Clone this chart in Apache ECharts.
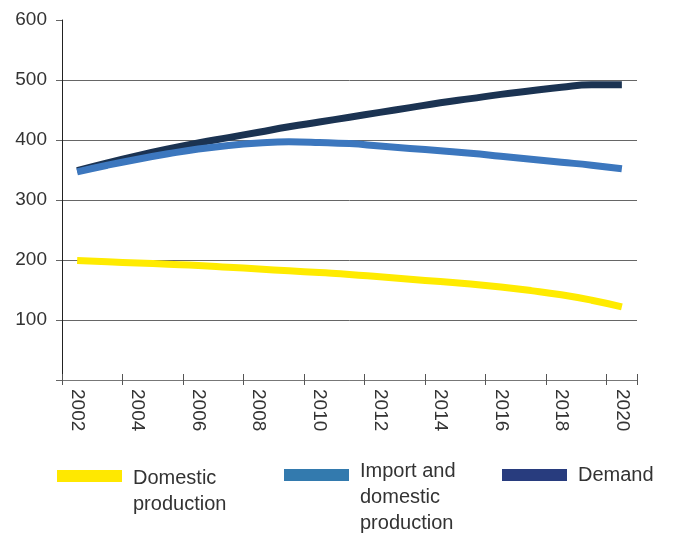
<!DOCTYPE html>
<html>
<head>
<meta charset="utf-8">
<script src="https://cdn.jsdelivr.net/npm/echarts@6/dist/echarts.min.js"></script>
<style>
  html, body { margin: 0; padding: 0; background: #fff; }
  #chart { width: 674px; height: 534px; }
</style>
</head>
<body>
<div id="chart"></div>
<script>
const years = ["2002", "2003", "2004", "2005", "2006", "2007", "2008", "2009", "2010", "2011",
  "2012", "2013", "2014", "2015", "2016", "2017", "2018", "2019", "2020"];
const domestic = [199, 197, 195, 193, 191, 188, 185, 182, 179, 176, 172, 168, 164, 160, 155, 149, 142, 133, 122];
const importDomestic = [347, 358, 368, 377, 385, 391, 395, 397, 396, 394, 390, 386, 382, 378, 373, 368, 363, 358, 352];
const demand = [349, 362, 374, 385, 395, 404, 413, 422, 430, 438, 446, 454, 462, 469, 476, 482, 488, 492, 492];
const yTicks = [0, 100, 200, 300, 400, 500, 600];

const FONT = "Liberation Sans";
const chart = echarts.init(document.getElementById("chart"));

// legend text is centred on the swatch, so blank spacer lines push the
// first text line down to swatch level
const legendText = { fontFamily: FONT, fontSize: 20, color: "#333", lineHeight: 26 };
const legendBase = {
  orient: "horizontal",
  padding: 0,
  icon: "rect",
  itemWidth: 65,
  itemHeight: 12,
  selectedMode: false,
  textStyle: Object.assign({}, legendText, {
    padding: [0, 0, 0, 6],
    rich: {
      t: legendText,
      s30: { fontSize: 2, lineHeight: 30 },
      s22: { fontSize: 2, lineHeight: 22 }
    }
  })
};

chart.setOption({
  animation: false,
  grid: { left: 62, right: 37, top: 20, bottom: 154 },
  legend: [
    Object.assign({}, legendBase, {
      left: 57, top: 435,
      data: [{ name: "Domestic production", itemStyle: { color: "#FFE800" } }],
      formatter: () => "{s30| }\n{t|Domestic}\n{t|production}"
    }),
    Object.assign({}, legendBase, {
      left: 284, top: 414,
      data: [{ name: "Import and domestic production", itemStyle: { color: "#337AAE" } }],
      formatter: () => "{s22| }\n{s22| }\n{t|Import and}\n{t|domestic}\n{t|production}"
    }),
    Object.assign({}, legendBase, {
      left: 502, top: 462,
      data: [{ name: "Demand", itemStyle: { color: "#283C7E" } }]
    })
  ],
  xAxis: [
    {
      type: "category",
      data: years,
      boundaryGap: true,
      axisLine: { lineStyle: { color: "#777", width: 1 } },
      axisTick: { show: true, interval: 1, length: 5, lineStyle: { color: "#555" } },
      axisLabel: {
        interval: 1, rotate: -90, margin: 9,
        fontFamily: FONT, fontSize: 19, color: "#333"
      },
      splitLine: { show: false }
    },
    {
      type: "category",
      data: years,
      boundaryGap: true,
      position: "bottom",
      axisLine: { show: false },
      axisTick: { show: true, inside: true, interval: 1, length: 6, lineStyle: { color: "#555" } },
      axisLabel: { show: false },
      splitLine: { show: false }
    }
  ],
  yAxis: {
    type: "value",
    min: yTicks[0],
    max: yTicks[yTicks.length - 1],
    interval: 100,
    axisLine: { show: true, lineStyle: { color: "#222", width: 1 } },
    axisTick: { show: true, length: 6, lineStyle: { color: "#666" } },
    axisLabel: {
      margin: 15, fontFamily: FONT, fontSize: 19, color: "#333",
      formatter: v => (v === 0 ? "" : String(v))
    },
    splitLine: { show: true, showMaxLine: false, lineStyle: { color: "#666", width: 1 } }
  },
  series: [
    {
      name: "Demand", type: "line", data: demand, smooth: 0.5, symbol: "none",
      lineStyle: { color: "#1B3352", width: 7 }, itemStyle: { color: "#1B3352" }
    },
    {
      name: "Import and domestic production", type: "line", data: importDomestic, smooth: 0.5, symbol: "none",
      lineStyle: { color: "#3C77BE", width: 7 }, itemStyle: { color: "#3C77BE" }
    },
    {
      name: "Domestic production", type: "line", data: domestic, smooth: 0.5, symbol: "none",
      lineStyle: { color: "#FFEB00", width: 7 }, itemStyle: { color: "#FFEB00" }
    }
  ]
});
</script>
</body>
</html>
